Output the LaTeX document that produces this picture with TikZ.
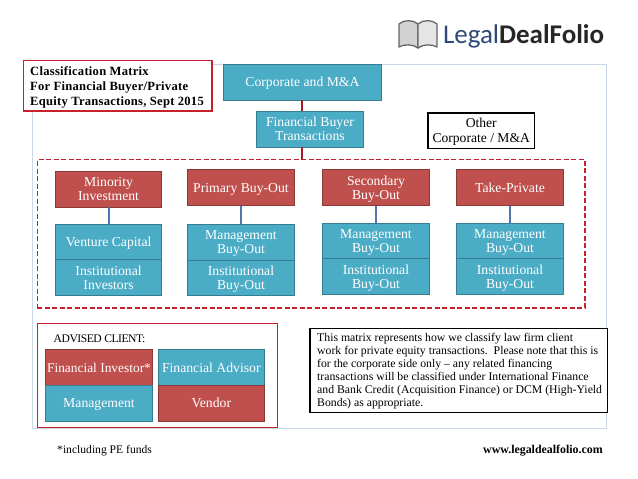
\documentclass[tikz,border=0pt]{standalone}
\usepackage{fontspec}
\setmainfont{Liberation Serif}
\newfontfamily\tightfont[LetterSpace=-4]{Liberation Serif}
\newfontfamily\titlefont[LetterSpace=2]{Liberation Serif}
\newfontfamily\logofont{Carlito}
\definecolor{teal}{HTML}{4BACC6}
\definecolor{tealedge}{HTML}{357D91}
\definecolor{brick}{HTML}{C0504D}
\definecolor{brickedge}{HTML}{8C3836}
\definecolor{panel}{HTML}{C9D7E6}
\definecolor{hotred}{HTML}{C8202C}
\definecolor{linkblue}{HTML}{4F76AE}
\definecolor{logoblue}{HTML}{2F4A78}
\tikzset{
  box/.style={draw,line width=1pt,outer sep=0pt,inner sep=0pt,anchor=north west,align=center,text=white,
    text depth=0pt,font=\fontsize{13.7}{14.2}\selectfont,minimum width=106.6pt},
  tealbox/.style={box,fill=teal,draw=tealedge},
  brickbox/.style={box,fill=brick,draw=brickedge},
  redlink/.style={draw=hotred!85!black,line width=2pt},
  bluelink/.style={draw=linkblue,line width=2pt},
  framebox/.style={draw,outer sep=0pt,inner sep=0pt,anchor=north west},
  redframe/.style={framebox,draw=hotred,line width=1.4pt},
  blackframe/.style={framebox,draw=black,line width=1.2pt,fill=white},
  bookpage/.style={draw=black!60,line width=1.3pt,line join=round},
}
\begin{document}
\begin{tikzpicture}[x=1pt,y=-1pt]
\useasboundingbox (0,0) rectangle (638,479);
\fill[white] (0,0) rectangle (638,479);
% panel
\node[framebox,draw=panel,line width=.9pt,minimum width=574.5pt,minimum height=363.5pt] (panel) at (32,64.5) {};
% logo
\path[bookpage,fill=gray!35] (399,24) .. controls (404,19.5) and (413,19.5) .. (418,24) -- (418,48) .. controls (413,44) and (404,44) .. (399,47) -- cycle;
\path[bookpage,fill=gray!20] (437,24) .. controls (432,19.5) and (423,19.5) .. (418,24) -- (418,48) .. controls (423,44) and (432,44) .. (437,47) -- cycle;
\node[anchor=base west,inner sep=0pt,outer sep=0pt,font=\logofont\fontsize{27}{27}\selectfont] (logo) at (443,43) {\textcolor{logoblue}{Legal}\textcolor{black!85}{\bfseries DealFolio}};
% title
\node[redframe,fill=white,minimum width=188.5pt,minimum height=50.5pt] (title) at (23.3,60.5) {};
\node[anchor=west,inner sep=0pt,align=left,font=\titlefont\bfseries\fontsize{12.6}{14.6}\selectfont] (titletext) at (30,87.5) {Classification Matrix\\For Financial Buyer/Private\\Equity Transactions, Sept 2015};
% top
\node[tealbox,minimum width=157.5pt,minimum height=36pt] (corp) at (223.7,64) {Corporate and M\&A};
\node[tealbox,minimum width=106.5pt,minimum height=36pt] (fb) at (256.7,111) {Financial Buyer\\Transactions};
\node[blackframe,minimum width=106.5pt,minimum height=35.5pt,align=center,text depth=0pt,font=\fontsize{13.6}{15}\selectfont] (other) at (428,113) {Other\\Corporate / M\&A};
% dashed
\node[redframe,dash pattern=on 5pt off 2.5pt,minimum width=547.7pt,minimum height=148.3pt] (dash) at (37.3,159.7) {};
\draw[redlink] (corp.south) -- (corp.south |- fb.north);
\draw[redlink] (corp.south |- fb.south) -- (corp.south |- dash.north);
% columns
\node[brickbox,minimum height=35.7pt] (minor) at (55.3,171.3) {Minority\\Investment};
\node[tealbox,minimum height=35.7pt] (vc) at (55.3,224) {Venture Capital};
\node[tealbox,minimum height=35.3pt] (ii) at (55.3,259.7) {Institutional\\Investors};
\draw[bluelink] (minor) -- (vc);
\node[brickbox,minimum height=36pt] (prim) at (187.7,169.7) {Primary Buy-Out};
\node[tealbox,minimum height=36pt] (pm) at (187.7,224) {Management\\Buy-Out};
\node[tealbox,minimum height=35pt] (pi) at (187.7,260) {Institutional\\Buy-Out};
\draw[bluelink] (prim) -- (pm);
\node[brickbox,minimum height=36pt] (sec) at (322.7,169.7) {Secondary\\Buy-Out};
\node[tealbox,minimum height=35.4pt] (sm) at (322.7,223.3) {Management\\Buy-Out};
\node[tealbox,minimum height=35.3pt] (si) at (322.7,258.7) {Institutional\\Buy-Out};
\draw[bluelink] (sec) -- (sm);
\node[brickbox,minimum height=36pt] (take) at (456.7,169.7) {Take-Private};
\node[tealbox,minimum height=35.4pt] (tm) at (456.7,223.3) {Management\\Buy-Out};
\node[tealbox,minimum height=35.3pt] (ti) at (456.7,258.7) {Institutional\\Buy-Out};
\draw[bluelink] (take) -- (tm);
% advised
\node[redframe,fill=white,minimum width=240.4pt,minimum height=104pt] (adv) at (37.3,323.7) {};
\node[anchor=west,inner sep=0pt,font=\tightfont\fontsize{11.6}{14}\selectfont] (advt) at (53.5,338.5) {ADVISED CLIENT:};
\node[brickbox,minimum height=36pt,font=\fontsize{13.4}{14.2}\selectfont] (fi) at (45.7,349.7) {Financial Investor*};
\node[tealbox,minimum height=35.3pt] (mg) at (45.7,385.7) {Management};
\node[tealbox,minimum height=35.3pt] (fa) at (158,349.7) {Financial Advisor};
\node[brickbox,minimum height=36pt] (vd) at (158,385) {Vendor};
% note
\node[blackframe,minimum width=297.3pt,minimum height=84pt] (note) at (310,328.3) {};
\node[anchor=west,inner sep=0pt,align=left,font=\fontsize{11.75}{13}\selectfont] (notetext) at (317,371.5) {This matrix represents how we classify law firm client\\work for private equity transactions.\ \ Please note that this is\\for the corporate side only – any related financing\\transactions will be classified under International Finance\\and Bank Credit (Acquisition Finance) or DCM (High-Yield\\Bonds) as appropriate.};
% footers
\node[anchor=west,inner sep=0pt,font=\fontsize{11.6}{13}\selectfont] (foot) at (57,450.5) {*including PE funds};
\node[anchor=east,inner sep=0pt,font=\bfseries\fontsize{11.9}{13}\selectfont] (url) at (603,450.5) {www.legaldealfolio.com};
\end{tikzpicture}
\end{document}
